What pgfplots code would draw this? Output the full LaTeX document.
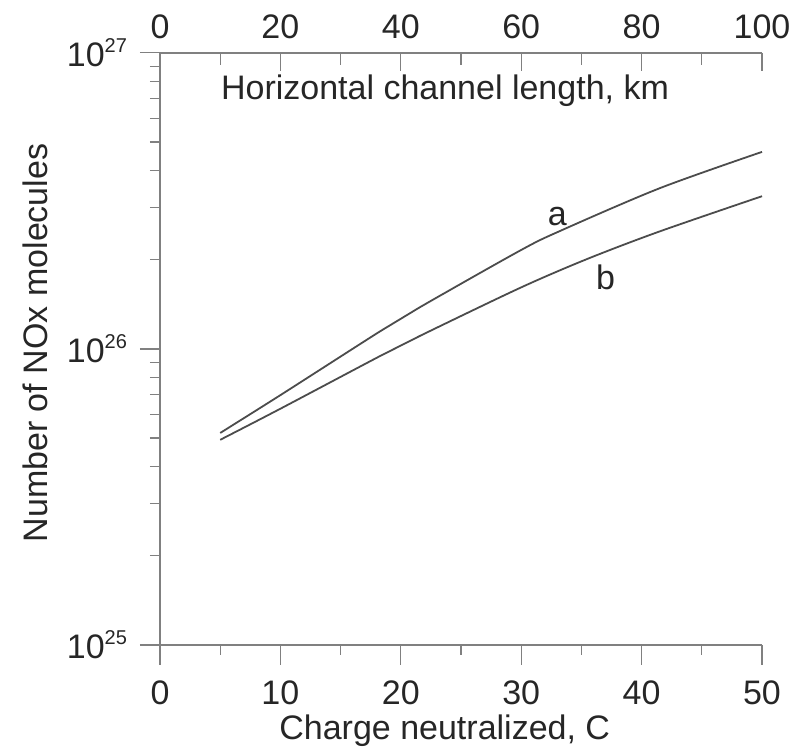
\documentclass[border=0pt]{standalone}
\usepackage{fontspec}
\setmainfont{Liberation Sans}
\usepackage{pgfplots}
\pgfplotsset{compat=1.18}

\definecolor{axgray}{gray}{0.5}
\definecolor{curvegray}{gray}{0.3}

\newcommand{\lbl}{\fontsize{17}{20}\selectfont}
\newcommand{\pw}[2]{#1\raisebox{0.75ex}{\fontsize{10}{10}\selectfont #2}}

\begin{document}
\begin{tikzpicture}
\begin{axis}[
  name=main,
  scale only axis, width=301pt, height=296pt,
  xmin=0, xmax=50,
  ymode=log, ymin=1e25, ymax=1e27,
  axis x line*=bottom, axis y line*=left,
  axis line style={axgray, line width=0.6pt},
  tick style={axgray, line width=0.6pt},
  tick align=outside,
  major tick length=10pt, minor tick length=5pt,
  xtick={0,10,20,30,40,50},
  minor xtick={5,15,25,35,45},
  ytick={1e25,1e26,1e27},
  yticklabels={\pw{10}{25},\pw{10}{26},\pw{10}{27}},
  /pgf/number format/assume math mode=true,
  tick label style={font=\lbl, text=black!85},
  xticklabel style={anchor=base, yshift=-20pt},
  yticklabel style={anchor=east, xshift=-3pt},
  xlabel={Charge neutralized, C},
  ylabel={Number of NOx molecules},
  every axis x label/.style={at={([yshift=-47.5pt]rel axis cs:0.473,0)}, anchor=base, font=\lbl, text=black!85},
  every axis y label/.style={at={([xshift=-62.5pt]rel axis cs:0,0.51)}, anchor=center, rotate=90, font=\lbl, text=black!85},
  clip=false,
]
% curve a
\addplot[curvegray, line width=0.9pt, smooth] coordinates {
  (5,5.20e25) (10,6.98e25) (18.3,1.148e26) (21.6,1.384e26)
  (29.9,2.148e26) (33.2,2.50e26) (41.5,3.49e26) (50,4.63e26)
};
% curve b
\addplot[curvegray, line width=0.9pt, smooth] coordinates {
  (5,4.93e25) (10,6.28e25) (18.3,9.47e25) (21.6,1.107e26)
  (29.9,1.607e26) (35.5,2.014e26) (41.5,2.494e26) (50,3.28e26)
};
\node[font=\lbl, text=black!85] at (axis cs:33,2.8e26) {a};
\node[font=\lbl, text=black!85] at (axis cs:37,1.74e26) {b};
\node[font=\lbl, text=black!85, anchor=base west] at ([xshift=27pt, yshift=-23.5pt]rel axis cs:0,1) {Horizontal channel length, km};
\coordinate (bl) at ([xshift=-80pt, yshift=-52pt]rel axis cs:0,0);
\coordinate (tr) at ([xshift=14pt, yshift=26.5pt]rel axis cs:1,1);
\end{axis}
\begin{axis}[
  scale only axis, width=301pt, height=296pt,
  xmin=0, xmax=100,
  ymin=0, ymax=1,
  axis x line*=top, axis y line=none,
  axis line style={axgray, line width=0.6pt},
  tick style={axgray, line width=0.6pt},
  tick align=inside,
  major tick length=9pt, minor tick length=6pt,
  xtick={0,20,40,60,80,100},
  minor xtick={10,30,50,70,90},
  ytick=\empty,
  /pgf/number format/assume math mode=true,
  tick label style={font=\lbl, text=black!85},
  xticklabel style={anchor=base, yshift=7pt},
]
\end{axis}
\pgfresetboundingbox
\path[use as bounding box] (bl) rectangle (tr);
\end{tikzpicture}
\end{document}
